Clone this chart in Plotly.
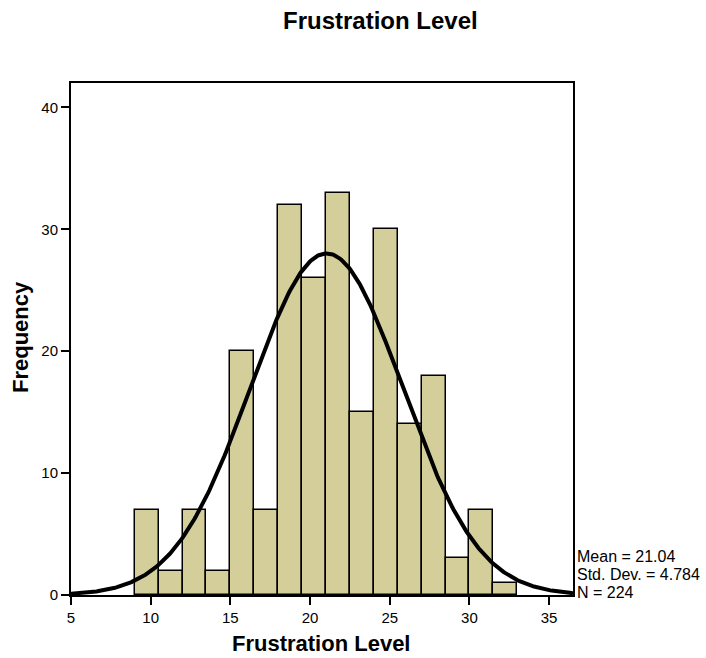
import numpy as np
import plotly.graph_objects as go

# ---- data ----
counts = [7, 2, 7, 2, 20, 7, 32, 26, 33, 15, 30, 14, 18, 3, 7, 1]
bin_start = 9.0
bin_width = 1.5
mean_val = 21.04
sd_val = 4.784
n_val = 224
x_ticks = [5, 10, 15, 20, 25, 30, 35]
y_ticks = [0, 10, 20, 30, 40]
stats_lines = ["Mean = 21.04", "Std. Dev. = 4.784", "N = 224"]

W, H = 706, 658
L, R, T, B = 71, 133, 83, 63
pw, ph = W - L - R, H - T - B

centers = [bin_start + bin_width * (i + 0.5) for i in range(len(counts))]

xr = [5, 36.5]
yr = [0, 42]

xc = np.linspace(xr[0], xr[1], 400)
yc = n_val * bin_width * np.exp(-0.5 * ((xc - mean_val) / sd_val) ** 2) / (sd_val * np.sqrt(2 * np.pi))

font = "Liberation Sans, Arial, sans-serif"

fig = go.Figure()
fig.add_trace(go.Bar(
    x=centers, y=counts, width=bin_width,
    marker=dict(color="#D3CE9A", line=dict(color="black", width=1.5)),
    hoverinfo="x+y", showlegend=False,
))
fig.add_trace(go.Scatter(
    x=xc, y=yc, mode="lines", line=dict(color="black", width=4),
    showlegend=False, hoverinfo="skip",
))

def py(pix):
    return (H - B - pix) / ph

def px(pix):
    return (pix - L) / pw

ann = [
    dict(text="<b>Frustration Level</b>", x=px(380), y=py(20), xref="paper", yref="paper",
         xanchor="center", yanchor="middle", showarrow=False, font=dict(size=24, family=font, color="black")),
    dict(text="<b>Frustration Level</b>", x=px(321), y=py(643), xref="paper", yref="paper",
         xanchor="center", yanchor="middle", showarrow=False, font=dict(size=22, family=font, color="black")),
    dict(text="<b>Frequency</b>", x=px(20), y=py(337), xref="paper", yref="paper", textangle=-90,
         xanchor="center", yanchor="middle", showarrow=False, font=dict(size=22, family=font, color="black")),
]
for i, s in enumerate(stats_lines):
    ann.append(dict(text=s, x=px(575), y=py(556 + 18 * i), xref="paper", yref="paper",
                    xanchor="left", yanchor="middle", showarrow=False,
                    font=dict(size=16, family=font, color="black")))

fig.update_layout(
    width=W, height=H,
    margin=dict(l=L, r=R, t=T, b=B, pad=0),
    paper_bgcolor="white", plot_bgcolor="white",
    bargap=0,
    font=dict(family=font, color="black"),
    annotations=ann,
    xaxis=dict(range=xr, tickmode="array", tickvals=x_ticks, ticks="outside", ticklen=8,
               tickwidth=1.5, tickcolor="black", showgrid=False, zeroline=False,
               showline=True, linecolor="black", linewidth=2, mirror=True,
               tickfont=dict(size=15, family=font, color="black")),
    yaxis=dict(range=yr, tickmode="array", tickvals=y_ticks, ticks="outside", ticklen=8,
               tickwidth=1.5, tickcolor="black", showgrid=False, zeroline=False,
               showline=True, linecolor="black", linewidth=2, mirror=True,
               tickfont=dict(size=15, family=font, color="black")),
)

fig.write_html("out.html")
